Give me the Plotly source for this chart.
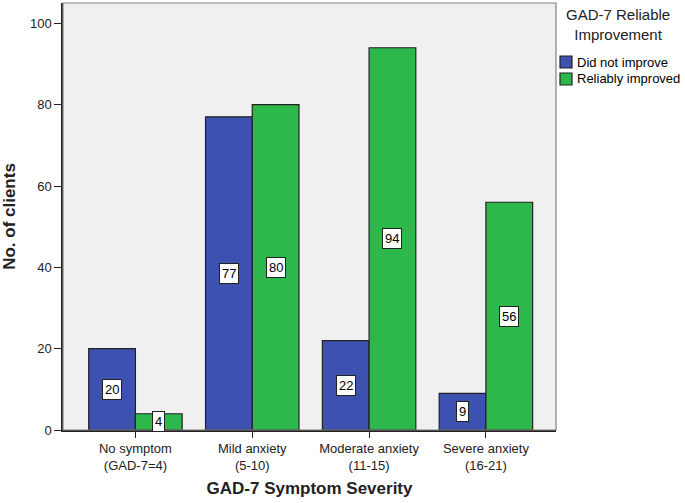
import plotly.graph_objects as go
import numpy as np

categories = ["No symptom<br>(GAD-7=4)", "Mild anxiety<br>(5-10)",
              "Moderate anxiety<br>(11-15)", "Severe anxiety<br>(16-21)"]
did_not_improve = [20, 77, 22, 9]
reliably_improved = [4, 80, 94, 56]
series_names = ["Did not improve", "Reliably improved"]
legend_title = "GAD-7 Reliable<br>Improvement"
y_ticks = [0, 20, 40, 60, 80, 100]

blue = "#3D51B0"
green = "#2DB84C"
colors = [blue, green]
xpos = np.arange(len(categories))

W, H = 685, 503
L, R, T, B = 63, 129, 3, 73
pw, ph = W - L - R, H - T - B


def px_x(px):
    return (px - L) / pw


def px_y(py):
    return (H - B - py) / ph


font = "Liberation Sans, Arial, sans-serif"

fig = go.Figure()
for vals, name, col in zip([did_not_improve, reliably_improved], series_names, colors):
    fig.add_trace(go.Bar(x=xpos, y=vals, name=name, showlegend=False,
                         marker=dict(color=col, line=dict(color="#222222", width=1.2))))

for vals, off in [(did_not_improve, -0.2), (reliably_improved, 0.2)]:
    for i, v in enumerate(vals):
        fig.add_annotation(x=xpos[i] + off, y=v / 2, text=str(v), showarrow=False,
                           xref="x", yref="y", bgcolor="white", bordercolor="#222222",
                           borderwidth=1, borderpad=2,
                           font=dict(family=font, size=13, color="black"))

fig.add_shape(type="rect", xref="paper", yref="paper", x0=0, x1=1, y0=0, y1=1,
              line=dict(color="#808080", width=1.2), layer="above")

# legend drawn manually
fig.add_annotation(xref="paper", yref="paper", x=px_x(618), y=px_y(25), text=legend_title,
                   showarrow=False, xanchor="center", yanchor="middle", align="center",
                   font=dict(family=font, size=15, color="#222222"))
for k, (name, col) in enumerate(zip(series_names, colors)):
    yc = 62 + 17 * k
    fig.add_shape(type="rect", xref="paper", yref="paper",
                  x0=px_x(560), x1=px_x(572), y0=px_y(yc - 6), y1=px_y(yc + 6),
                  fillcolor=col, line=dict(color="#222222", width=1.2))
    fig.add_annotation(xref="paper", yref="paper", x=px_x(575), y=px_y(yc), text=name,
                       showarrow=False, xanchor="left", yanchor="middle",
                       font=dict(family=font, size=13, color="black"))

fig.update_layout(
    width=W, height=H,
    margin=dict(l=L, r=R, t=T, b=B, autoexpand=False),
    paper_bgcolor="white", plot_bgcolor="#F0F0F0",
    barmode="group", bargap=0.2, bargroupgap=0,
    font=dict(family=font, size=13, color="#222222"),
    showlegend=False,
    xaxis=dict(tickvals=list(xpos), ticktext=categories, range=[-0.62, 3.6],
               showgrid=False, zeroline=False, showline=True, linecolor="#222222",
               linewidth=1.5, ticks="outside", ticklen=6, tickcolor="#222222",
               tickfont=dict(size=13, color="#222222"), automargin=False,
               title=dict(text="<b>GAD-7 Symptom Severity</b>", standoff=10,
                          font=dict(size=17, color="#222222"))),
    yaxis=dict(range=[0, 105], tickvals=y_ticks, showgrid=False, zeroline=False,
               showline=True, linecolor="#222222", linewidth=1.5, ticks="outside",
               ticklen=7, tickcolor="#222222", tickfont=dict(size=13, color="#222222"),
               automargin=False,
               title=dict(text="<b>No. of clients</b>", standoff=18,
                          font=dict(size=17, color="#222222"))),
)

fig.write_html("out.html", config={"displayModeBar": False},
               post_script="document.body.style.margin='0';document.body.style.padding='0';")
